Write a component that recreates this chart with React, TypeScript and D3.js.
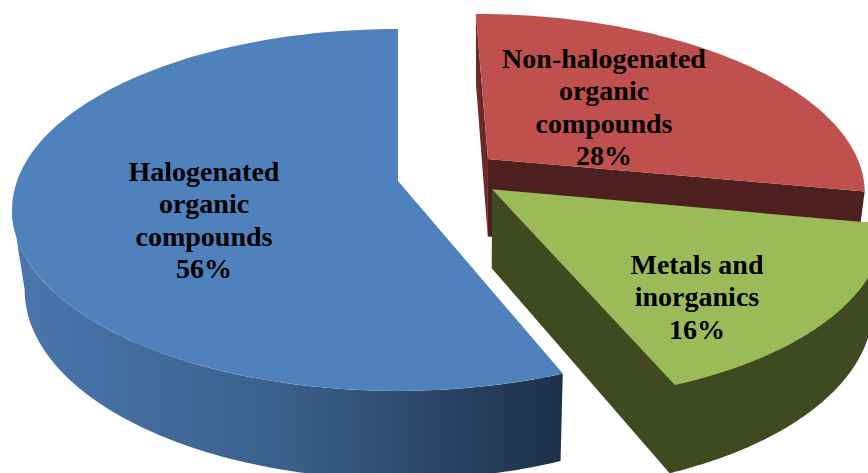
import React from "react";
import * as d3 from "d3";

// Chart data
const categories = [
  "Non-halogenated organic compounds",
  "Metals and inorganics",
  "Halogenated organic compounds",
];
const shares = [28, 16, 56];
const labelLines = [
  ["Non-halogenated", "organic", "compounds"],
  ["Metals and", "inorganics"],
  ["Halogenated", "organic", "compounds"],
];

// Styling per slice
const topColors = ["#C0504D", "#9BBB59", "#4F81BD"];
const wallColors = ["#4D1F1E", "#3F4A20", "url(#blueWall)"];
const redSideWall = "#6A2A29";

// Layout per slice: explosion offset on the pie plane, radius factor, first label baseline
const explode: [number, number][] = [
  [0.241, -0.127],
  [0.245, 0.047],
  [0, 0],
];
const radiusFactor = [0.99, 1, 1];
const labelAnchors: [number, number][] = [
  [604, 68],
  [697, 274],
  [204, 181],
];

const WIDTH = 868;
const HEIGHT = 473;
const LINE_HEIGHT = 32.3;

// Perspective projection of the unit pie plane onto the page
const CX = 398;
const CY = 181;
const RX = 381;
const RY = 176.3;
const PERSP = 0.16;

type P = [number, number];

const project = (X: number, Y: number): P => {
  const s = 1 / (1 - PERSP * Y);
  return [CX + RX * X * s, CY + RY * Y * s];
};

// The lower face sits below the upper one and shrinks towards a vanishing column
const drop = ([x, y]: P): P => [x + (480 - x) * 0.027, y + 70 + 0.047 * y];

const rimPoint = (angle: number, i: number): P =>
  project(
    radiusFactor[i] * Math.sin(angle) + explode[i][0],
    -radiusFactor[i] * Math.cos(angle) + explode[i][1]
  );

const toPath = d3.line<P>().curve(d3.curveLinear);

const arcSamples = (a0: number, a1: number, i: number): P[] =>
  d3.range(0, 121).map((k) => rimPoint(a0 + ((a1 - a0) * k) / 120, i));

const slices = d3.pie<number>().sort(null).startAngle(0).endAngle(2 * Math.PI)(shares);

// Angle of the leftmost rim point; the blue wall is hidden past it
const BLUE_WALL_END = Math.PI * 2 - Math.acos(-PERSP) ;

export default function App() {
  const faces = slices.map((slice, i) => {
    const apex = project(explode[i][0], explode[i][1]);
    const rim = arcSamples(slice.startAngle, slice.endAngle, i);
    return { apex, rim, top: toPath([apex, ...rim])! + "Z" };
  });

  const wallsFor = (i: number) => {
    const { apex, rim } = faces[i];
    const first = rim[0];
    const last = rim[rim.length - 1];
    if (i === 0) {
      return [
        { d: toPath([first, apex, drop(apex), drop(first)])! + "Z", fill: redSideWall },
        { d: toPath([apex, last, drop(last), drop(apex)])! + "Z", fill: wallColors[0] },
      ];
    }
    if (i === 1) {
      // Cut wall and rim wall share one colour, so they form a single outline
      return [{ d: toPath([apex, first, ...rim.map(drop), drop(apex)])! + "Z", fill: wallColors[1] }];
    }
    const visible = arcSamples(slices[2].startAngle, BLUE_WALL_END, 2);
    return [{ d: toPath([...visible, ...visible.map(drop).reverse()])! + "Z", fill: wallColors[2] }];
  };

  return (
    <svg
      width={WIDTH}
      height={HEIGHT}
      viewBox={`0 0 ${WIDTH} ${HEIGHT}`}
      style={{ position: "absolute", left: 0, top: 0, background: "#fff" }}
      role="img"
      aria-label={categories.join(", ")}
    >
      <defs>
        <linearGradient id="blueWall" gradientUnits="userSpaceOnUse" x1={12} x2={562} y1={0} y2={0}>
          <stop offset="0" stopColor="#4A77AE" />
          <stop offset="0.5" stopColor="#3A5F8A" />
          <stop offset="1" stopColor="#1D3049" />
        </linearGradient>
      </defs>

      {[0, 1, 2].map((i) => (
        <g key={categories[i]}>
          {wallsFor(i).map((w, k) => (
            <path key={k} d={w.d} fill={w.fill} />
          ))}
          <path d={faces[i].top} fill={topColors[i]} />
        </g>
      ))}

      {categories.map((name, i) => (
        <text
          key={name}
          textAnchor="middle"
          fontFamily="'Liberation Serif', serif"
          fontWeight="bold"
          fontSize={28}
          fill="#000"
        >
          {[...labelLines[i], `${shares[i]}%`].map((line, k) => (
            <tspan key={k} x={labelAnchors[i][0]} y={labelAnchors[i][1] + k * LINE_HEIGHT}>
              {line}
            </tspan>
          ))}
        </text>
      ))}
    </svg>
  );
}
